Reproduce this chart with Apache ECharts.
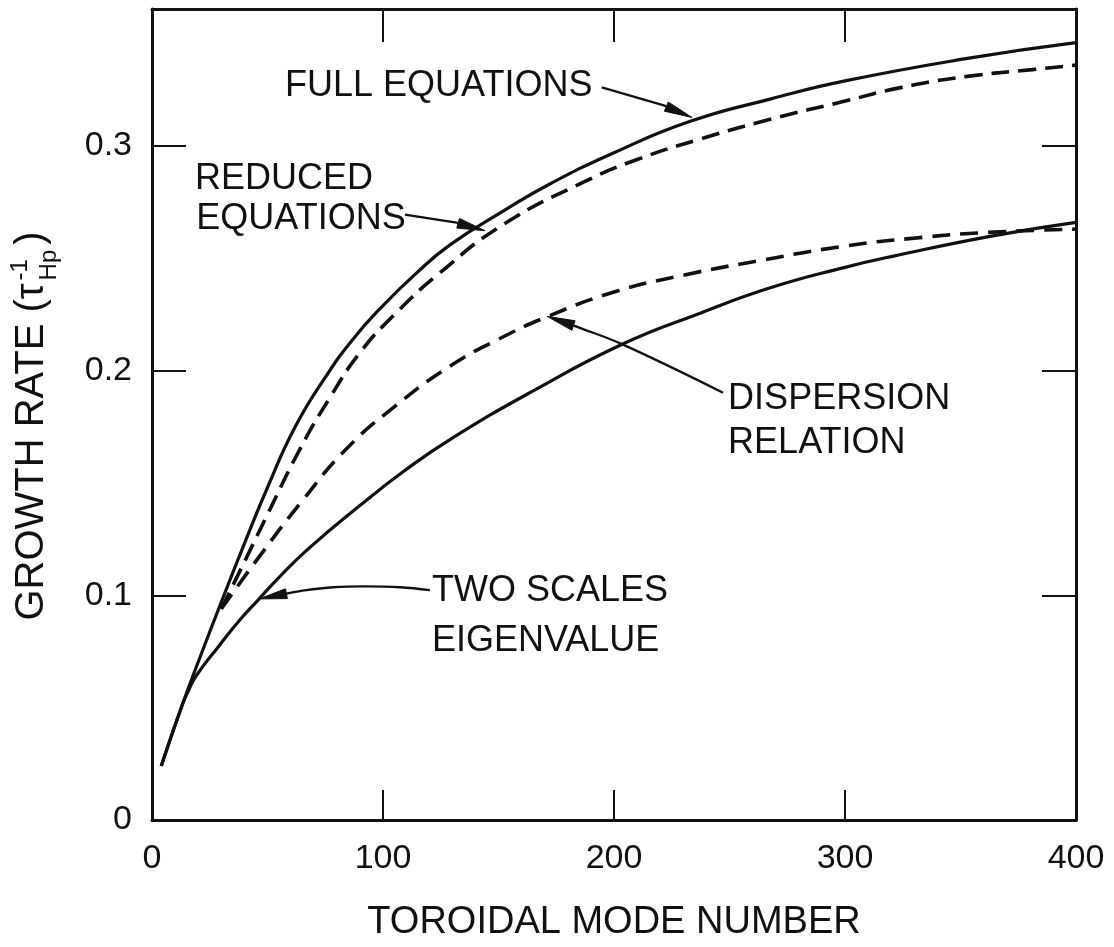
<!DOCTYPE html>
<html>
<head>
<meta charset="utf-8">
<script src="https://cdn.jsdelivr.net/npm/echarts@6/dist/echarts.min.js"></script>
<style>
  html, body { margin: 0; padding: 0; background: #ffffff; }
  #chart { width: 1114px; height: 947px; }
</style>
</head>
<body>
<div id="chart"></div>
<script>
// Tick labels
const xTickLabels = ['0', '100', '200', '300', '400'];
const yTickLabels = ['0', '0.1', '0.2', '0.3'];

// Growth rate (1/tau_Hp) against toroidal mode number, [n, gamma]
const fullEquations = [
  [4, 0.024], [13, 0.051], [21, 0.073], [30, 0.097], [40, 0.123], [50, 0.148],
  [62, 0.175], [75, 0.197], [87, 0.214], [100, 0.229], [114, 0.243], [129, 0.256],
  [152, 0.271], [172, 0.283], [200, 0.297], [233, 0.311], [268, 0.321], [300, 0.329],
  [353, 0.339], [400, 0.346]
];
const reducedEquations = [
  [30, 0.094], [41, 0.117], [50, 0.136], [64, 0.165], [77, 0.188], [90, 0.208],
  [105, 0.225], [124, 0.243], [152, 0.265], [187, 0.284], [210, 0.294], [237, 0.303],
  [268, 0.312], [300, 0.320], [324, 0.326], [353, 0.331], [381, 0.334], [400, 0.336]
];
const dispersionRelation = [
  [30, 0.094], [47, 0.118], [65, 0.142], [84, 0.165], [105, 0.184], [129, 0.202],
  [150, 0.214], [171, 0.224], [200, 0.235], [230, 0.2425], [263, 0.249], [300, 0.2555],
  [330, 0.259], [361, 0.2615], [400, 0.263]
];
const twoScalesEigenvalue = [
  [4, 0.024], [13, 0.051], [16, 0.058], [19, 0.064], [29, 0.0775], [38, 0.089], [46, 0.098],
  [55, 0.108], [68, 0.121], [90, 0.140], [110, 0.156], [130, 0.170], [165, 0.191],
  [204, 0.212], [237, 0.2255], [268, 0.237], [300, 0.246], [321, 0.251], [364, 0.260],
  [400, 0.266]
];

// Curve labels: one entry per text line, anchored (left, vertical middle) in data units
const labelText = ['FULL EQUATIONS', 'REDUCED', 'EQUATIONS', 'DISPERSION', 'RELATION', 'TWO SCALES', 'EIGENVALUE'];
const labelAt = [
  [57.6, 0.3267], [18.6, 0.2854], [19.2, 0.2673], [249.4, 0.1874], [249.4, 0.1678],
  [121.2, 0.1017], [121.2, 0.0797]
];

// Leader arrows from each label to its curve (tail ... tip), in data units
const arrowFull = [[194.7, 0.3261], [221.2, 0.3182], [233.8, 0.3127]];
const arrowReduced = [[109.5, 0.2695], [131.2, 0.2660], [144.2, 0.2623]];
const arrowDispersion = [[247.2, 0.1902], [203.9, 0.2116], [184.4, 0.2194], [171.0, 0.2242]];
const arrowTwoScales = [[120.3, 0.1023], [107.4, 0.1036], [92.2, 0.1040], [78.4, 0.1036], [64.1, 0.1019], [46.3, 0.0984]];
const arrowPaths = [arrowFull, arrowReduced, arrowDispersion, arrowTwoScales];

const INK = '#111111';
const FONT = '"Liberation Sans", Arial, sans-serif';

function tickText(list, step) {
  return function (v) {
    const k = v / step;
    const i = Math.round(k);
    return Math.abs(k - i) < 1e-6 && list[i] !== undefined ? list[i] : '';
  };
}

const chart = echarts.init(document.getElementById('chart'), null, { renderer: 'canvas' });

// Y-axis title, built from pieces so the superscript and subscript stack
function yTitle() {
  const ctx = document.createElement('canvas').getContext('2d');
  const big = 40, small = 24;
  ctx.font = big + 'px ' + FONT;
  const main = 'GROWTH RATE (\u03C4';
  const wMain = ctx.measureText(main).width;
  const wParen = ctx.measureText(')').width;
  ctx.font = small + 'px ' + FONT;
  const wScript = Math.max(ctx.measureText('-1').width, ctx.measureText('Hp').width);
  const total = wMain + 3 + wScript + 5 + wParen;
  const x0 = -total / 2;
  const base = { fill: INK, fontFamily: FONT, verticalAlign: 'middle', align: 'left' };
  return {
    type: 'group',
    x: 32, y: 426,
    rotation: Math.PI / 2,
    children: [
      { type: 'text', x: x0, y: 0, style: Object.assign({ text: main, fontSize: big }, base) },
      { type: 'text', x: x0 + wMain + 3, y: -12, style: Object.assign({ text: '-1', fontSize: small }, base) },
      { type: 'text', x: x0 + wMain + 3, y: 17, style: Object.assign({ text: 'Hp', fontSize: small }, base) },
      { type: 'text', x: x0 + wMain + 3 + wScript + 5, y: 0, style: Object.assign({ text: ')', fontSize: big }, base) }
    ]
  };
}

const frameLine = { show: true, onZero: false, lineStyle: { color: INK, width: 3 } };

function curve(name, data, dash, width) {
  return {
    name: name, type: 'line', data: data, smooth: 0.5, symbol: 'none',
    lineStyle: { color: INK, width: width, type: dash }, z: 3
  };
}

const option = {
  backgroundColor: '#ffffff',
  animation: false,
  grid: { left: 152, right: 38, top: 9, bottom: 109, containLabel: false },
  xAxis: [
    {
      type: 'value', position: 'bottom', min: 0, max: 400, interval: 100,
      axisLine: frameLine,
      axisTick: { show: true, inside: true, length: 30, lineStyle: { color: INK, width: 2 } },
      axisLabel: { show: true, margin: 22, color: INK, fontSize: 34, fontFamily: FONT, formatter: tickText(xTickLabels, 100) },
      splitLine: { show: false },
      name: 'TOROIDAL MODE NUMBER', nameLocation: 'middle', nameGap: 84,
      nameTextStyle: { color: INK, fontSize: 38, fontFamily: FONT }
    },
    {
      type: 'value', position: 'top', min: 0, max: 400, interval: 100,
      axisLine: frameLine,
      axisTick: { show: true, inside: true, length: 33, lineStyle: { color: INK, width: 2 } },
      axisLabel: { show: false },
      splitLine: { show: false }
    }
  ],
  yAxis: [
    {
      type: 'value', position: 'left', min: 0, max: 0.361, interval: 0.1,
      axisLine: frameLine,
      axisTick: { show: true, inside: true, length: 34, lineStyle: { color: INK, width: 2 } },
      axisLabel: { show: true, margin: 20, color: INK, fontSize: 34, fontFamily: FONT, showMaxLabel: false, formatter: tickText(yTickLabels, 0.1) },
      splitLine: { show: false }
    },
    {
      type: 'value', position: 'right', min: 0, max: 0.361, interval: 0.1,
      axisLine: frameLine,
      axisTick: { show: true, inside: true, length: 34, lineStyle: { color: INK, width: 2 } },
      axisLabel: { show: false },
      splitLine: { show: false }
    }
  ],
  graphic: [yTitle()],
  series: [
    curve('Full equations', fullEquations, 'solid', 3.2),
    curve('Reduced equations', reducedEquations, [18, 9], 3.6),
    curve('Dispersion relation', dispersionRelation, [18, 10], 3.6),
    curve('Two scales eigenvalue', twoScalesEigenvalue, 'solid', 3.2),
    {
      name: 'labels', type: 'custom', clip: false, z: 4,
      data: labelText.map(function (_, i) { return [labelAt[i][0], labelAt[i][1], i]; }),
      renderItem: function (params, api) {
        const i = params.dataIndex;
        const p = api.coord(labelAt[i]);
        return {
          type: 'text', x: p[0], y: p[1],
          style: { text: labelText[i], fill: INK, fontSize: 36, fontFamily: FONT, align: 'left', verticalAlign: 'middle' }
        };
      }
    },
    {
      name: 'arrows', type: 'custom', clip: false, z: 4,
      data: arrowPaths.map(function (a, i) { return [a[a.length - 1][0], a[a.length - 1][1], i]; }),
      renderItem: function (params, api) {
        const pts = arrowPaths[params.dataIndex].map(function (p) { return api.coord(p); });
        const tip = pts[pts.length - 1];
        const prev = pts[pts.length - 2];
        const dx = tip[0] - prev[0], dy = tip[1] - prev[1];
        const len = Math.hypot(dx, dy);
        const ux = dx / len, uy = dy / len;
        const L = 28, W = 5;
        const baseP = [tip[0] - ux * L, tip[1] - uy * L];
        const shaft = pts.slice(0, -1).concat([baseP]);
        return {
          type: 'group',
          children: [
            { type: 'polyline', shape: { points: shaft, smooth: 0.4 }, style: { stroke: INK, lineWidth: 2.3, fill: null } },
            {
              type: 'polygon',
              shape: { points: [tip, [baseP[0] + uy * W, baseP[1] - ux * W], [baseP[0] - uy * W, baseP[1] + ux * W]] },
              style: { fill: INK, stroke: INK, lineWidth: 1 }
            }
          ]
        };
      }
    }
  ]
};

chart.setOption(option);
</script>
</body>
</html>
